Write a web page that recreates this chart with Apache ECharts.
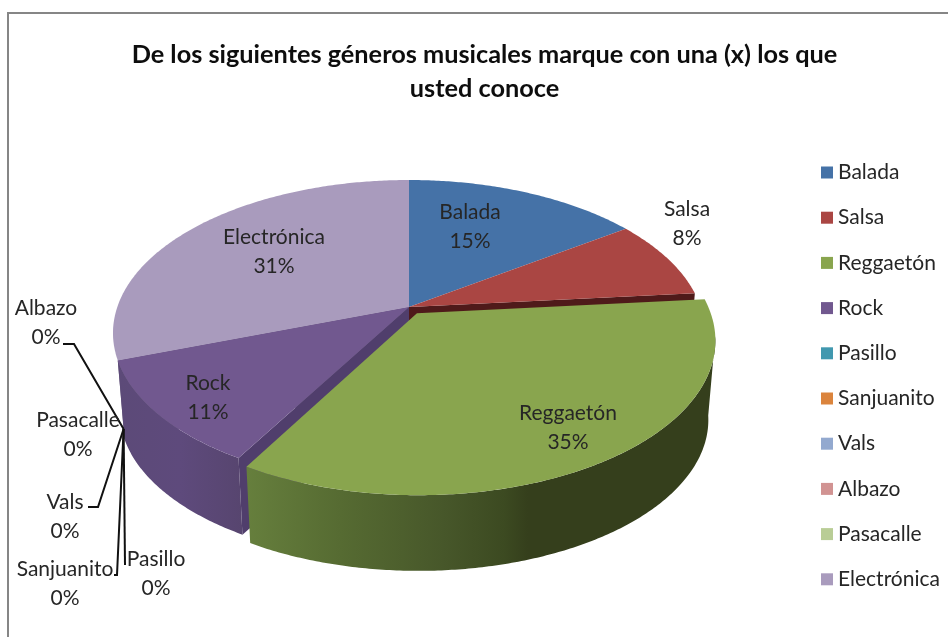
<!DOCTYPE html>
<html><head><meta charset="utf-8">
<style>html,body{margin:0;padding:0;background:#fff}#c{width:948px;height:637px}</style>
<script src="https://cdn.jsdelivr.net/npm/echarts@6/dist/echarts.min.js"></script>
</head><body><div id="c"></div>
<script>
const titleText = 'De los siguientes géneros musicales marque con una (x) los que\nusted conoce';
const categories = ['Balada','Salsa','Reggaetón','Rock','Pasillo','Sanjuanito','Vals','Albazo','Pasacalle','Electrónica'];
const percentages = [15.2,8.3,34.8,11.2,0,0,0,0,0,30.5];
const colors = ['#4572A7','#AA4643','#89A54E','#71588F','#4198AF','#DB843D','#93A9CF','#D19392','#B9CD96','#A99BBD'];
const cutColors = ['#2c4a6e','#4f1a1a','#4c5c2a','#503e6c','#2a6070','#8a5020','#5f7090','#8a5f5e','#7a8860','#6f6480'];
const rimStops = {
  'Reggaetón': [[0,'#667f3d'],[0.2,'#566b32'],[0.42,'#47572a'],[0.55,'#3c4a21'],[0.6,'#353f1c'],[1,'#353f1c']],
  'Rock': [[0,'#57456f'],[0.5,'#5e4a7c'],[1,'#5c4a78']]
};
const drawOrder = {'Electrónica':1,'Balada':2,'Salsa':3,'Rock':4,'Reggaetón':5};
const explode = {'Reggaetón':0.05};
const labelAt = {
  'Balada':[470,227],'Salsa':[687,224],'Reggaetón':[568,428],'Rock':[208,398],'Electrónica':[274,252],
  'Pasillo':[156,574],'Sanjuanito':[65,584],'Vals':[65,517],'Albazo':[46,323],'Pasacalle':[78,435]
};
const leaderVia = {
  'Pasillo':[[125,565]],'Sanjuanito':[[117,575],[114,575]],'Vals':[[98,507],[88,507]],
  'Albazo':[[74,344],[63,344]],'Pasacalle':null
};
const view = {cx:409, cy:307, A:291.7, B:148.6, k:0.17, drop:80, shrink:0.977, hubDepth:0.87};
const font = 'Lato, Carlito, sans-serif';
const total = percentages.reduce((a,b)=>a+b,0);

function project(u,v,bottom){
  const w = 1 - view.k*v;
  const X = view.A*u/w, Y = view.B*v/w;
  return bottom ? [view.cx+view.shrink*X, view.cy+view.drop+view.shrink*Y] : [view.cx+X, view.cy+Y];
}
function angleAt(sum){ return sum/total*2*Math.PI; }
function rimPoint(t,off,bottom){ return project(Math.sin(t)+off[0], -Math.cos(t)+off[1], bottom); }
function arcPts(a,b,off,bottom){
  const n = Math.max(2,Math.ceil((b-a)/0.01)), out=[];
  for(let i=0;i<=n;i++){ out.push(rimPoint(a+(b-a)*i/n,off,bottom)); }
  return out;
}
function renderSlice(idx){
  return function(){
    const before = percentages.slice(0,idx).reduce((a,b)=>a+b,0);
    const a = angleAt(before), b = angleAt(before+percentages[idx]);
    const name = categories[idx], color = colors[idx], children=[];
    if(percentages[idx]===0) return {type:'group',children};
    const mid=(a+b)/2, e=explode[name]||0, off=[e*Math.sin(mid),-e*Math.cos(mid)];
    const apexT=project(off[0],off[1],false), apexB=project(off[0],off[1],true);
    const cutFaces = (t)=>[rimPoint(t,off,false),apexT,apexB,rimPoint(t,off,true)];
    if(name==='Rock'||name==='Balada'||name==='Electrónica'){ children.push({type:'polygon',shape:{points:cutFaces(a)},style:{fill:cutColors[idx]}}); }
    if(name==='Salsa'){ children.push({type:'polygon',shape:{points:cutFaces(b)},style:{fill:cutColors[idx]}}); }
    if(rimStops[name]){
      const ra=Math.max(a,1.72), rb=b;
      const top=arcPts(ra,rb,off,false), bot=arcPts(ra,rb,off,true).reverse();
      const stops=rimStops[name].map(s=>({offset:s[0],color:s[1]}));
      children.push({type:'polygon',shape:{points:top.concat(bot)},
        style:{fill:new echarts.graphic.LinearGradient(name==='Rock'?1:0,0,name==='Rock'?0:1,0,stops,false)}});
    }
    children.push({type:'polygon',shape:{points:[apexT].concat(arcPts(a,b,off,false))},style:{fill:color}});
    return {type:'group',children};
  };
}
function renderLabels(){
  const before = percentages.slice(0,9).reduce((a,b)=>a+b,0);
  const t = angleAt(before), pT = rimPoint(t,[0,0],false), pB = rimPoint(t,[0,0],true);
  const hub = [pT[0]+(pB[0]-pT[0])*view.hubDepth, pT[1]+(pB[1]-pT[1])*view.hubDepth];
  const children=[];
  categories.forEach((name,i)=>{
    const p=labelAt[name];
    children.push({type:'text',z2:10,style:{text:name+'\n'+Math.round(percentages[i])+'%',x:p[0],y:p[1],align:'center',verticalAlign:'middle',
      font:'21px '+font,lineHeight:29,fill:'#262626'}});
    if(percentages[i]===0 && leaderVia[name]){
      children.push({type:'polyline',z2:9,shape:{points:[hub].concat(leaderVia[name])},style:{stroke:'#111',lineWidth:2,fill:null}});
    }
  });
  return {type:'group',children};
}
const series = categories.map((name,i)=>({
  type:'custom',name,coordinateSystem:'none',data:[[percentages[i]]],
  z:2+(drawOrder[name]||0),silent:true,itemStyle:{color:colors[i]},
  renderItem:renderSlice(i)
}));
series.push({type:'custom',coordinateSystem:'none',data:[[0]],z:20,silent:true,renderItem:renderLabels});
const chart = echarts.init(document.getElementById('c'),null,{renderer:'canvas'});
chart.setOption({
  animation:false,
  backgroundColor:'#ffffff',
  title:{text:titleText,left:484.5,top:38,padding:0,textAlign:'center',
    textStyle:{fontFamily:font,fontSize:25.3,fontWeight:'bold',color:'#0d0d0d',lineHeight:34}},
  legend:{orient:'vertical',left:821,top:162,padding:0,itemWidth:12,itemHeight:12,itemGap:24.2,icon:'rect',selectedMode:false,
    data:categories,textStyle:{fontFamily:font,fontSize:21,color:'#262626',padding:[0,0,0,0]}},
  graphic:[{type:'rect',z:0,shape:{x:8,y:13,width:1100,height:800},style:{fill:'none',stroke:'#868686',lineWidth:2}}],
  series
});
</script></body></html>
